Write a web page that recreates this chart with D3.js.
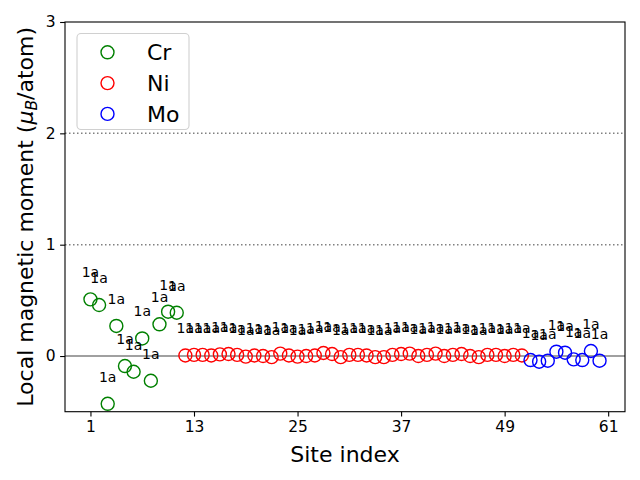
<!DOCTYPE html>
<html>
<head>
<meta charset="utf-8">
<script src="https://cdn.jsdelivr.net/npm/d3@7"></script>
<style>
  html, body { margin: 0; padding: 0; background: #fff; }
  svg { display: block; font-family: "DejaVu Sans", sans-serif; }
</style>
</head>
<body>
<svg id="chart" width="640" height="480"></svg>
<script>
// ---------------- data ----------------
const crSites  = [1, 2, 3, 4, 5, 6, 7, 8, 9, 10, 11];
const crValues = [0.509, 0.458, -0.429, 0.270, -0.090, -0.141, 0.158, -0.222, 0.285, 0.398, 0.389];

const niSites  = [12,13,14,15,16,17,18,19,20,21,22,23,24,25,26,27,28,29,30,31,
                  32,33,34,35,36,37,38,39,40,41,42,43,44,45,46,47,48,49,50,51];
const niValues = [0.005,0.010,0.010,0.005,0.015,0.018,0.010,-0.005,0.005,0.000,
                  -0.010,0.022,0.005,-0.005,0.000,0.005,0.027,0.018,-0.010,0.010,
                  0.010,0.005,-0.010,-0.010,0.010,0.018,0.022,0.000,0.010,0.022,
                  0.000,0.010,0.018,0.000,-0.010,0.010,0.010,0.000,0.010,0.005];

const moSites  = [52, 53, 54, 55, 56, 57, 58, 59, 60];
const moValues = [-0.036, -0.051, -0.042, 0.039, 0.030, -0.030, -0.036, 0.045, -0.042];

const siteLabel = "1a";
const xTicks = [1, 13, 25, 37, 49, 61];
const yTicks = [0, 1, 2, 3];
const refLines = [1, 2];

const series = [
  { name: "Cr", color: "#008000", sites: crSites, values: crValues },
  { name: "Ni", color: "#ff0000", sites: niSites, values: niValues },
  { name: "Mo", color: "#0000ff", sites: moSites, values: moValues }
];

// ---------------- layout ----------------
const svg = d3.select("#chart");
const L = 65, R = 625, T = 22, B = 411.7;
const x = d3.scaleLinear().domain([-1.95, 62.95]).range([L, R]);
const y = d3.scaleLinear().domain([-0.5, 3]).range([B, T]);

// reference lines
svg.selectAll("line.ref").data(refLines).enter().append("line")
  .attr("x1", L).attr("x2", R)
  .attr("y1", d => y(d)).attr("y2", d => y(d))
  .attr("stroke", "#808080").attr("stroke-width", 1.5)
  .attr("stroke-dasharray", "1.5,2.5");

svg.append("line")
  .attr("x1", L).attr("x2", R)
  .attr("y1", y(0)).attr("y2", y(0))
  .attr("stroke", "#808080").attr("stroke-width", 1.5);

// points + labels
series.forEach(s => {
  const pts = s.sites.map((site, i) => ({ site, v: s.values[i] }));
  const g = svg.append("g");
  g.selectAll("circle").data(pts).enter().append("circle")
    .attr("cx", d => x(d.site)).attr("cy", d => y(d.v))
    .attr("r", 6.5)
    .attr("fill", "none").attr("stroke", s.color).attr("stroke-width", 1.4);
});
series.forEach(s => {
  const pts = s.sites.map((site, i) => ({ site, v: s.values[i] }));
  svg.append("g").selectAll("text").data(pts).enter().append("text")
    .attr("x", d => x(d.site)).attr("y", d => y(d.v) - 22)
    .attr("text-anchor", "middle")
    .attr("font-size", 14).attr("fill", "#000")
    .text(siteLabel);
});

// axes
const xAxis = d3.axisBottom(x).tickValues(xTicks).tickFormat(d3.format("d"))
  .tickSize(4.9).tickPadding(4.5).tickSizeOuter(0);
const yAxis = d3.axisLeft(y).tickValues(yTicks).tickFormat(d3.format("d"))
  .tickSize(4.9).tickPadding(4.5).tickSizeOuter(0);

const gx = svg.append("g").attr("transform", `translate(0,${B})`).call(xAxis);
const gy = svg.append("g").attr("transform", `translate(${L},0)`).call(yAxis);
[gx, gy].forEach(g => {
  g.select(".domain").remove();
  g.selectAll(".tick line").attr("stroke", "#000").attr("stroke-width", 1.1);
  g.selectAll(".tick text").attr("font-size", 15.5).attr("fill", "#000")
    .attr("font-family", "DejaVu Sans, sans-serif");
});

// frame
svg.append("rect").attr("x", L).attr("y", T).attr("width", R - L).attr("height", B - T)
  .attr("fill", "none").attr("stroke", "#000").attr("stroke-width", 1.1);

// axis labels
svg.append("text").attr("x", (L + R) / 2).attr("y", 462)
  .attr("text-anchor", "middle").attr("font-size", 22).attr("fill", "#000")
  .text("Site index");

const yl = svg.append("text")
  .attr("transform", `translate(33,${(T + B) / 2}) rotate(-90)`)
  .attr("text-anchor", "middle").attr("font-size", 22).attr("fill", "#000");
yl.append("tspan").text("Local magnetic moment (");
yl.append("tspan").attr("font-style", "italic").text("μ");
yl.append("tspan").attr("font-style", "italic").attr("font-size", 15.5).attr("dy", 4).text("B");
yl.append("tspan").attr("dy", -4).text("/atom)");

// legend
const lg = svg.append("g");
lg.append("rect").attr("x", 77).attr("y", 33.5).attr("width", 112).attr("height", 96)
  .attr("rx", 4).attr("fill", "#fff").attr("fill-opacity", 0.8)
  .attr("stroke", "#d0d0d0").attr("stroke-width", 1.1);
series.forEach((s, i) => {
  const cy = 52.3 + i * 30.8;
  lg.append("circle").attr("cx", 107.5).attr("cy", cy).attr("r", 6.5)
    .attr("fill", "none").attr("stroke", s.color).attr("stroke-width", 1.4);
  lg.append("text").attr("x", 147).attr("y", cy + 8).attr("font-size", 22)
    .attr("fill", "#000").text(s.name);
});
</script>
</body>
</html>
